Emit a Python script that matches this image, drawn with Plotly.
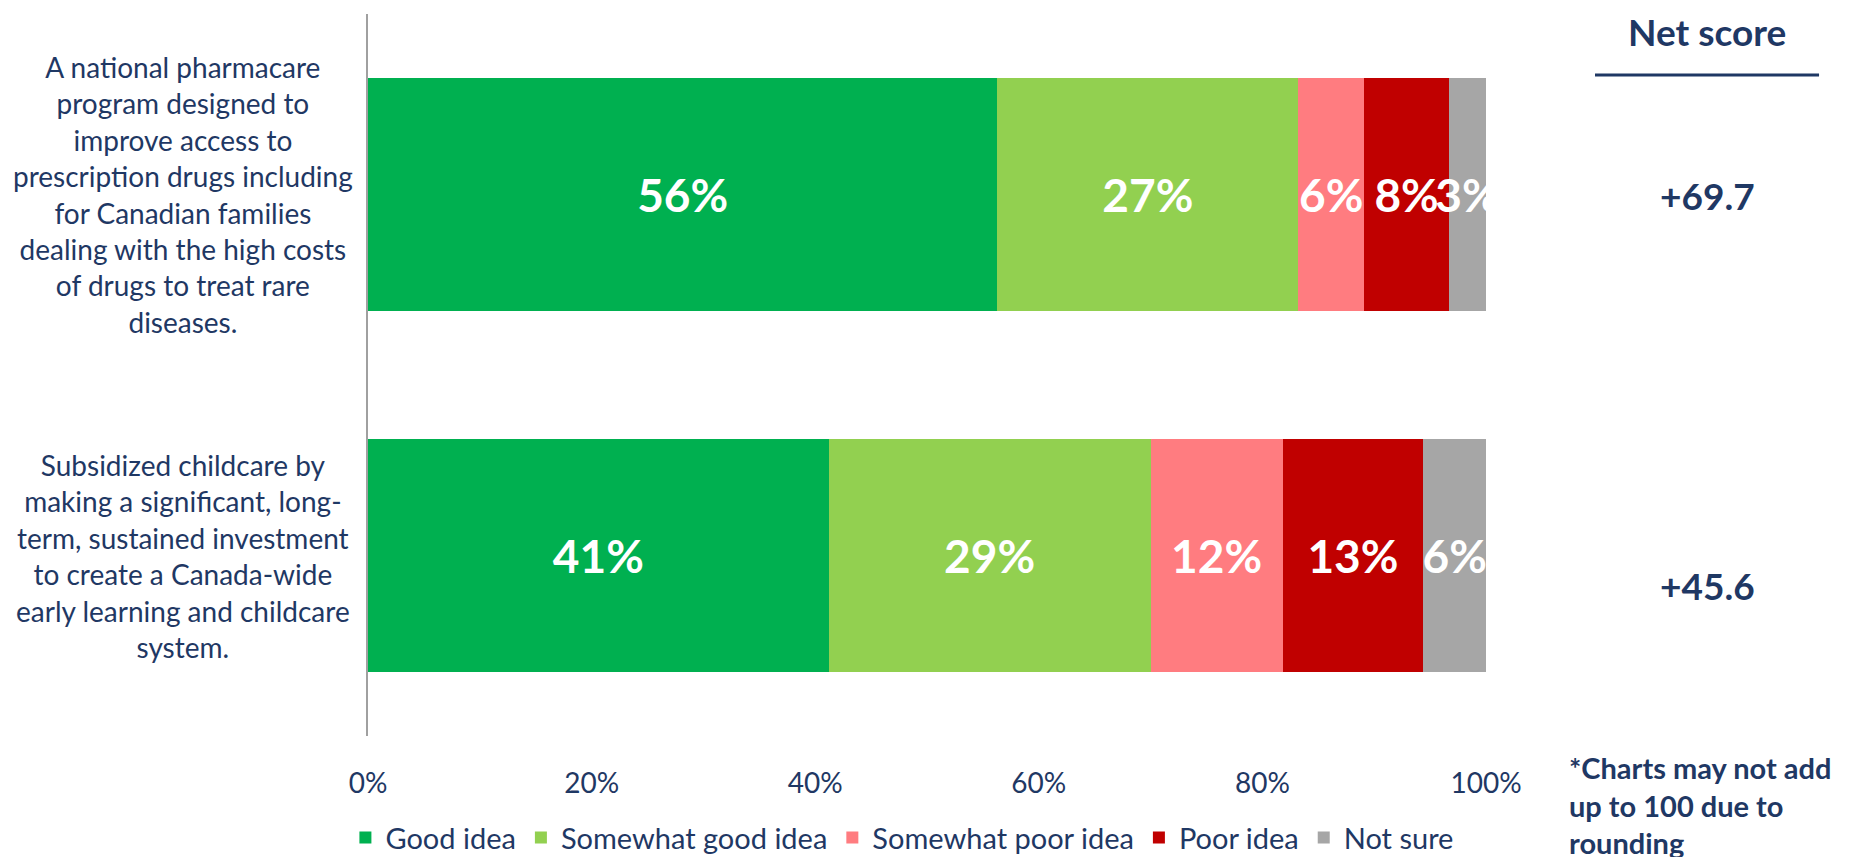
import plotly.graph_objects as go

# ---- data ----
categories = [
    "A national pharmacare<br>program designed to<br>improve access to<br>prescription drugs including<br>for Canadian families<br>dealing with the high costs<br>of drugs to treat rare<br>diseases.",
    "Subsidized childcare by<br>making a significant, long-<br>term, sustained investment<br>to create a Canada-wide<br>early learning and childcare<br>system.",
]
series_names = ["Good idea", "Somewhat good idea", "Somewhat poor idea", "Poor idea", "Not sure"]
good_idea = [56.3, 41.2]
somewhat_good = [26.9, 28.8]
somewhat_poor = [5.9, 11.8]
poor_idea = [7.6, 12.6]
not_sure = [3.3, 5.6]
net_scores = ["+69.7", "+45.6"]
tick_vals = [0, 20, 40, 60, 80, 100]
tick_text = ["0%", "20%", "40%", "60%", "80%", "100%"]

colors = ["#00B050", "#92D050", "#FF7C80", "#C00000", "#A6A6A6"]
NAVY = "#1F3864"
FONT = "Lato"

fig = go.Figure()
ykeys = [0, 1]
for name, vals, col in zip(series_names,
                           [good_idea, somewhat_good, somewhat_poor, poor_idea, not_sure],
                           colors):
    fig.add_trace(go.Bar(
        name=name, x=vals, y=ykeys, orientation="h",
        marker=dict(color=col, line=dict(width=0)),
        width=0.645,
        texttemplate="%{x:.0f}%",
        textposition="inside",
        insidetextanchor="middle",
        textangle=0,
        constraintext="none",
        cliponaxis=True,
        textfont=dict(family=FONT, size=46, color="white", weight="bold"),
        hoverinfo="skip",
    ))

# category labels (left)
for i, c in enumerate(categories):
    fig.add_annotation(
        x=-0.1655, xref="paper", y=ykeys[i], yref="y",
        text=c, showarrow=False, align="center",
        xanchor="center", yanchor="middle",
        font=dict(family=FONT, size=28, color=NAVY),
    )

# net score column
fig.add_annotation(x=1.1977, xref="paper", y=1.0083, yref="paper",
                   text="<b>Net score</b>", showarrow=False,
                   xanchor="center", yanchor="top", borderpad=0,
                   font=dict(family=FONT, size=37, color=NAVY))
fig.add_shape(type="line", xref="paper", yref="paper",
              x0=1.0975, x1=1.2979, y0=0.9155, y1=0.9155,
              line=dict(color=NAVY, width=3))
for ypos, ns in zip([0.748, 0.209], net_scores):
    fig.add_annotation(x=1.1977, xref="paper", y=ypos, yref="paper",
                       text="<b>%s</b>" % ns, showarrow=False,
                       xanchor="center", yanchor="middle",
                       font=dict(family=FONT, size=37, color=NAVY))

fig.add_annotation(x=1.0725, xref="paper", y=-0.0956, yref="paper",
                   text="<b>*Charts may not add<br>up to 100 due to<br>rounding</b>",
                   showarrow=False, align="left",
                   xanchor="left", yanchor="middle",
                   font=dict(family=FONT, size=29, color=NAVY))

fig.update_layout(
    width=1855, height=857,
    barmode="stack",
    plot_bgcolor="white", paper_bgcolor="white",
    margin=dict(l=360, r=377, t=6, b=129, autoexpand=False),
    font=dict(family=FONT, color=NAVY),
    showlegend=True,
    legend=dict(orientation="h", x=0.478, xanchor="center",
                yref="container", y=0.032, yanchor="middle",
                font=dict(family=FONT, size=29, color=NAVY),
                itemclick=False, traceorder="normal"),
    xaxis=dict(range=[0, 100], tickvals=tick_vals, ticktext=tick_text,
               showgrid=False, zeroline=False, showline=False,
               ticks="", ticklabelstandoff=28, automargin=False,
               tickfont=dict(family=FONT, size=28, color=NAVY),
               fixedrange=True),
    yaxis=dict(range=[1.5, -0.5], showticklabels=False, showgrid=False,
               zeroline=False, showline=True, linecolor="#A0A0A0", linewidth=2,
               ticks="", fixedrange=True, automargin=False),
    bargap=0.355,
)

fig.write_html("out.html")
